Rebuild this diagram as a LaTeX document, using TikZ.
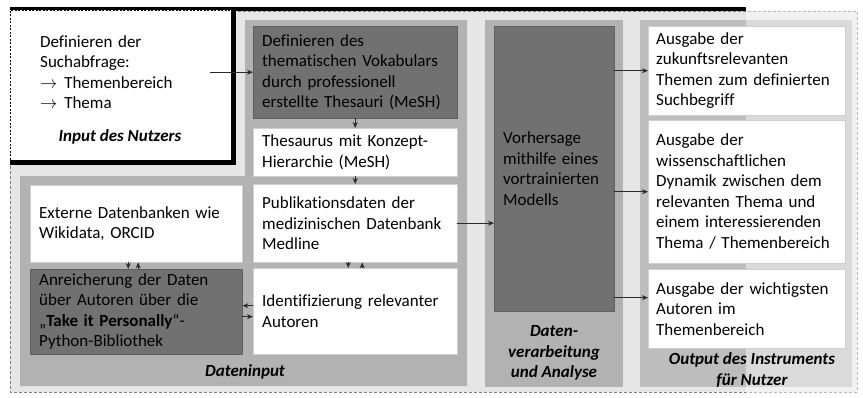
\documentclass[tikz,border=0pt]{standalone}
\usepackage{fontspec}
\setmainfont{Carlito}[Ligatures=CommonOff]
\usetikzlibrary{arrows.meta}
\definecolor{hell}{HTML}{E6E6E6}
\definecolor{mittel}{HTML}{B2B2B2}
\definecolor{ausgabe}{HTML}{BDBDBD}
\definecolor{dunkel}{HTML}{717171}
\definecolor{rahmen}{HTML}{CFCFCF}
\definecolor{pfeilgrau}{HTML}{2B2B2B}
\tikzset{>={Stealth[length=6pt, width=5pt]}}

\begin{document}
\begin{tikzpicture}[x=1pt, y=-1pt, font=\fontsize{17}{20.5}\selectfont,
    feld/.style={rectangle, anchor=north west, align=left, inner xsep=9pt, inner ysep=0pt},
    weiss/.style={feld, fill=white, draw=rahmen},
    dunkelfeld/.style={feld, fill=dunkel, draw=dunkel!85!black},
    titel/.style={align=center, font=\fontsize{17}{20.5}\selectfont\bfseries\itshape},
    pfeil/.style={->, draw=pfeilgrau, line width=0.9pt}]
    \useasboundingbox (0,0) rectangle (863,397);
    % hintergrund
    \draw[gray, dash pattern=on 3pt off 2pt, fill=hell] (10,11) rectangle (857,392);
    \fill[mittel] (245,20) -- (467,20) -- (467,386) -- (20,386) -- (20,176) -- (245,176) -- cycle;
    \fill[mittel] (485,20) rectangle (623,387);
    \fill[ausgabe] (640,20) rectangle (852,387);
    \fill[white, opacity=0.45] (746,0) rectangle (863,397);
    \draw[line width=4pt] (10,9) -- (746,9);
    % input
    \node[feld, fill=white, draw, dash pattern=on 2pt off 1.5pt, minimum width=223pt, minimum height=152pt] (nutzer) at (10,10) {};
    \draw[line width=5pt] (nutzer.north east) -- (nutzer.south east) -- (nutzer.south west);
    \node[feld, inner xsep=10pt, text width=160pt, minimum height=80pt] (suche) at (30,32)
        {Definieren der\\Suchabfrage:\\$\rightarrow$\hspace{0.4em}Themenbereich\\$\rightarrow$\hspace{0.4em}Thema};
    \node[titel] (nutzerlabel) at (120,137) {Input des Nutzers};
    % dateninput
    \node[dunkelfeld, text width=186pt, minimum height=92pt] (thesauri) at (253,26)
        {Definieren des\\thematischen Vokabulars\\durch professionell\\erstellte Thesauri (MeSH)};
    \node[weiss, text width=186pt, minimum height=48pt] (thesaurus) at (253,128)
        {Thesaurus mit Konzept-\\Hierarchie (MeSH)};
    \node[weiss, text width=186pt, minimum height=78pt] (pub) at (253,184)
        {Publikationsdaten der\\medizinischen Datenbank\\Medline};
    \node[weiss, text width=186pt, minimum height=86pt] (ident) at (253,268)
        {Identifizierung relevanter\\Autoren};
    \node[weiss, text width=194pt, minimum height=77pt] (extern) at (30,185)
        {Externe Datenbanken wie\\Wikidata, ORCID};
    \node[dunkelfeld, text width=194pt, minimum height=85pt] (anreicherung) at (30,269)
        {Anreicherung der Daten\\über Autoren über die\\„\textbf{Take it Personally}“-\\Python-Bibliothek};
    \node[titel] (inputlabel) at (245,372) {Dateninput};
    % analyse
    \node[dunkelfeld, text width=102pt, minimum height=285pt] (modell) at (494,26)
        {Vorhersage\\mithilfe eines\\vortrainierten\\Modells};
    \node[titel] (analyselabel) at (554,353) {Daten-\\verarbeitung\\und Analyse};
    % output
    \node[weiss, inner xsep=8pt, text width=181pt, minimum height=89pt] (out1) at (648,26)
        {Ausgabe der\\zukunftsrelevanten\\Themen zum definierten\\Suchbegriff};
    \node[weiss, inner xsep=8pt, text width=181pt, minimum height=143pt] (out2) at (648,120)
        {Ausgabe der\\wissenschaftlichen\\Dynamik zwischen dem\\relevanten Thema und\\einem interessierenden\\Thema / Themenbereich};
    \node[weiss, inner xsep=8pt, text width=181pt, minimum height=79pt] (out3) at (648,269)
        {Ausgabe der wichtigsten\\Autoren im\\Themenbereich};
    \node[titel] (outputlabel) at (752,370) {Output des Instruments\\für Nutzer};
    % pfeile
    \draw[pfeil] (suche.east) -- (suche.east -| thesauri.west);
    \draw[pfeil] (thesauri) -- (thesaurus);
    \draw[pfeil] (thesaurus) -- (pub);
    \draw[pfeil] ([xshift=-7pt]pub.south) -- ([xshift=-7pt]ident.north);
    \draw[pfeil] ([xshift=7pt]ident.north) -- ([xshift=7pt]pub.south);
    \draw[pfeil] ([xshift=-8pt]extern.south) -- ([xshift=-8pt]anreicherung.north);
    \draw[pfeil] ([xshift=2pt]anreicherung.north) -- ([xshift=2pt]extern.south);
    \coordinate (links) at ([yshift=5.5pt]ident.west);
    \coordinate (rechts) at ([yshift=-5.5pt]ident.west);
    \draw[pfeil] (links) -- (links -| anreicherung.east);
    \draw[pfeil] (rechts -| anreicherung.east) -- (rechts);
    \draw[pfeil] (pub.east) -- (pub.east -| modell.west);
    \draw[pfeil] (out1.west -| modell.east) -- (out1.west);
    \draw[pfeil] (out2.west -| modell.east) -- (out2.west);
    \coordinate (o3) at ([yshift=11pt]out3.west);
    \draw[pfeil] (o3 -| modell.east) -- (o3);
\end{tikzpicture}
\end{document}
